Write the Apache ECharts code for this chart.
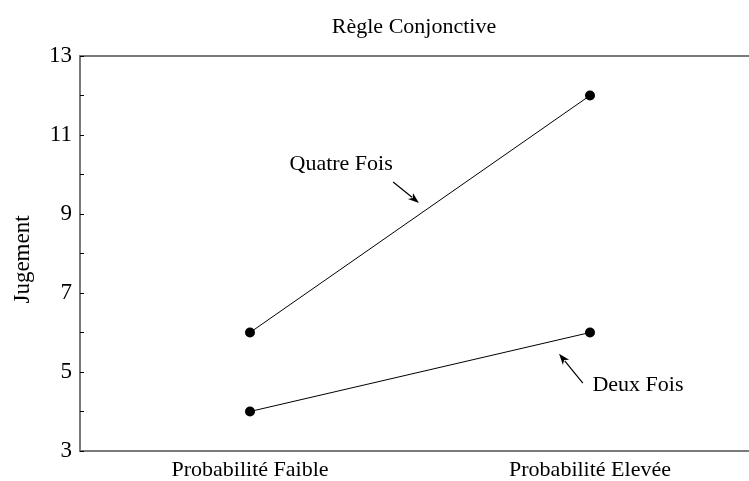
<!DOCTYPE html>
<html>
<head>
<meta charset="utf-8">
<script src="https://cdn.jsdelivr.net/npm/echarts@6/dist/echarts.min.js"></script>
<style>
  html, body { margin: 0; padding: 0; background: #fff; }
  #main { width: 749px; height: 481px; }
</style>
</head>
<body>
<div id="main"></div>
<script>
const categories = ['Probabilité Faible', 'Probabilité Elevée'];
const quatreFois = [6, 12];
const deuxFois = [4, 6];
const yTicks = [3, 5, 7, 9, 11, 13];

// annotations in data space: [category index (fractional), value]
const notes = [
  { text: 'Quatre Fois', at: [0.268, 10.27], from: [0.421, 9.81], to: [0.497, 9.28] },
  { text: 'Deux Fois', at: [1.141, 4.67], from: [0.979, 4.72], to: [0.909, 5.46] }
];

const font = 'Liberation Serif';
const axisGray = '#7a7a7a';

const chart = echarts.init(document.getElementById('main'));
const option = {
  animation: false,
  backgroundColor: '#fff',
  title: {
    text: 'Règle Conjonctive',
    left: 409,
    textAlign: 'center',
    top: 11,
    textStyle: { fontFamily: font, fontSize: 22, fontWeight: 'normal', color: '#000' }
  },
  grid: { left: 80, top: 56, width: 680, height: 395, outerBoundsMode: 'none', containLabel: false },
  xAxis: [{
    type: 'category',
    data: categories,
    position: 'bottom',
    axisLine: { lineStyle: { color: axisGray, width: 2 } },
    axisTick: { inside: true, length: 3, alignWithLabel: true, lineStyle: { color: '#000' } },
    axisLabel: { fontFamily: font, fontSize: 22, color: '#000', margin: 8 },
    splitLine: { show: false }
  }, {
    type: 'category',
    data: categories,
    position: 'top',
    axisLine: { lineStyle: { color: axisGray, width: 2 } },
    axisTick: { inside: true, length: 3, alignWithLabel: true, lineStyle: { color: '#000' } },
    axisLabel: { show: false },
    splitLine: { show: false }
  }],
  yAxis: {
    type: 'value',
    min: yTicks[0],
    max: yTicks[yTicks.length - 1],
    interval: 2,
    name: 'Jugement',
    nameLocation: 'middle',
    nameGap: 46,
    nameTextStyle: { fontFamily: font, fontSize: 23, color: '#000', padding: [0, 12, 0, 0] },
    axisLine: { show: true, lineStyle: { color: axisGray, width: 2 } },
    axisTick: { show: true, inside: true, length: 4, lineStyle: { color: '#000' } },
    minorTick: { show: true, splitNumber: 2, length: 4, lineStyle: { color: '#000' } },
    axisLabel: { fontFamily: font, fontSize: 23, color: '#000', margin: 8 },
    splitLine: { show: false }
  },
  series: [{
    name: 'Quatre Fois',
    type: 'line',
    data: quatreFois,
    symbol: 'circle',
    symbolSize: 10,
    itemStyle: { color: '#000' },
    lineStyle: { color: '#000', width: 1 }
  }, {
    name: 'Deux Fois',
    type: 'line',
    data: deuxFois,
    symbol: 'circle',
    symbolSize: 10,
    itemStyle: { color: '#000' },
    lineStyle: { color: '#000', width: 1 }
  }]
};
chart.setOption(option);

// pixel position from [fractional category index, value]
const toPx = p => {
  const a = chart.convertToPixel({ xAxisIndex: 0, yAxisIndex: 0 }, [0, p[1]]);
  const b = chart.convertToPixel({ xAxisIndex: 0, yAxisIndex: 0 }, [1, p[1]]);
  return [a[0] + p[0] * (b[0] - a[0]), a[1]];
};
const graphics = [];
notes.forEach(n => {
  const t = toPx(n.at);
  const a = toPx(n.from);
  const b = toPx(n.to);
  graphics.push({
    type: 'text',
    x: t[0], y: t[1],
    style: { text: n.text, fontFamily: font, fontSize: 22, fill: '#000', align: 'center', verticalAlign: 'middle' }
  });
  const dx = b[0] - a[0], dy = b[1] - a[1];
  const len = Math.hypot(dx, dy);
  const ux = dx / len, uy = dy / len;
  const head = 11, half = 4;
  const bx = b[0] - ux * head, by = b[1] - uy * head;
  graphics.push({
    type: 'line',
    shape: { x1: a[0], y1: a[1], x2: bx + ux * 2, y2: by + uy * 2 },
    style: { stroke: '#000', lineWidth: 1.2 }
  });
  graphics.push({
    type: 'polygon',
    shape: { points: [[b[0], b[1]], [bx - uy * half, by + ux * half], [bx + ux * 3, by + uy * 3], [bx + uy * half, by - ux * half]] },
    style: { fill: '#000' }
  });
});
chart.setOption({ graphic: graphics });
</script>
</body>
</html>
